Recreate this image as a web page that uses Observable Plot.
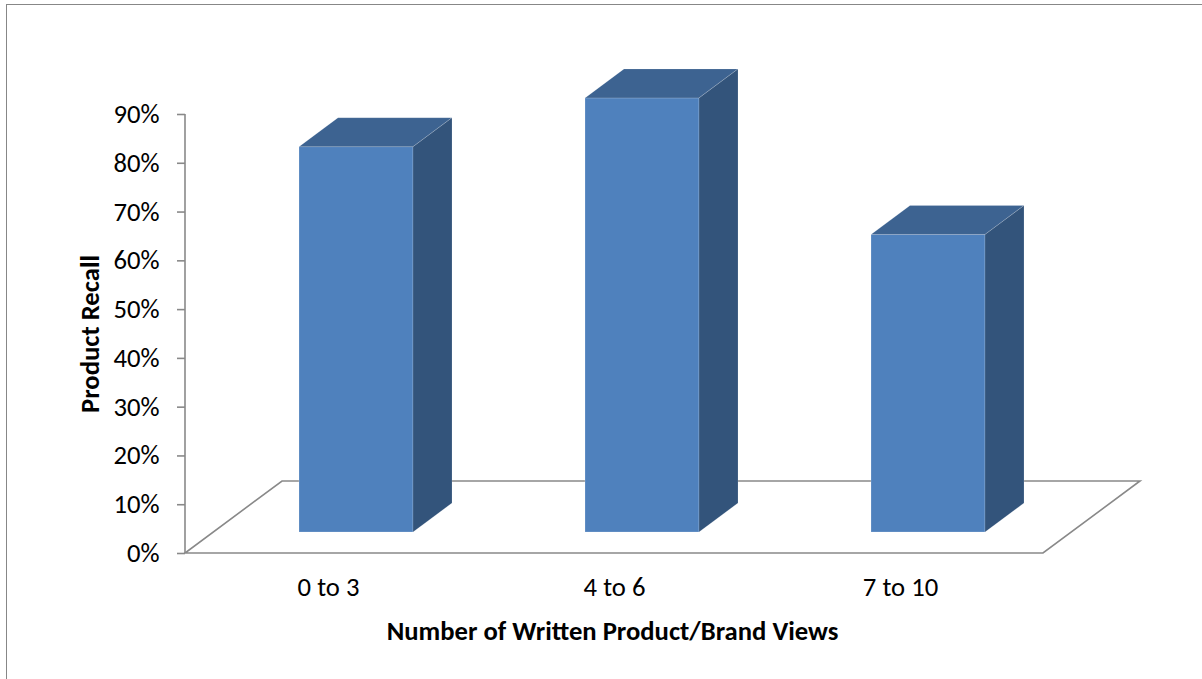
<!DOCTYPE html>
<html>
<head>
<meta charset="utf-8">
<script src="https://cdn.jsdelivr.net/npm/d3@7"></script>
<script src="https://cdn.jsdelivr.net/npm/@observablehq/plot@0.6"></script>
<style>
  html, body { margin: 0; padding: 0; background: #fff; }
  #chart { position: relative; width: 1202px; height: 679px; overflow: hidden; }
  #chart::before {
    content: ""; position: absolute; left: 6px; top: 4px; right: -10px; bottom: -10px;
    border-left: 1.5px solid #878787; border-top: 1.5px solid #878787; pointer-events: none;
  }
  #chart svg { display: block; }
</style>
</head>
<body>
<div id="chart"></div>
<script>
// Product recall by number of written product/brand views
const categories = ["0 to 3", "4 to 6", "7 to 10"];
const recall = [0.79, 0.89, 0.61];
const yTicks = [0, 0.1, 0.2, 0.3, 0.4, 0.5, 0.6, 0.7, 0.8, 0.9];
const xTitle = "Number of Written Product/Brand Views";
const yTitle = "Product Recall";

const rows = categories.map((category, i) => ({category, recall: recall[i]}));

// Oblique projection used for the pseudo-3D floor and columns (pixels)
const FLOOR = {dx: 97, dy: -72};   // depth of the floor
const FRONT = {dx: 28, dy: -21};   // front face of the columns, behind the floor's front edge
const DEPTH = {dx: 39, dy: -29};   // depth of each column
const BAR_W = 114;                 // width of a column's front face

const W = 1202, H = 679;
const margin = {top: 114, right: 159, bottom: 126, left: 185};
const band = (W - margin.left - margin.right) / categories.length;
const inset = (band - BAR_W) / 2;

const font = "Carlito, Calibri, Lato, 'Open Sans', sans-serif";
const FONT_SIZE = 26.67;
const AXIS_GRAY = "#898989";

// Floor outline and the vertical value axis line
function floor(index, scales) {
  const {x, y} = scales;
  const [x0, x1] = x.range();
  const y0 = y(0);
  const [yb, yt] = y.range();
  const g = d3.create("svg:g");
  g.append("path")
    .attr("d", `M${x0},${y0}L${x1},${y0}L${x1 + FLOOR.dx},${y0 + FLOOR.dy}L${x0 + FLOOR.dx},${y0 + FLOOR.dy}Z`)
    .attr("fill", "none")
    .attr("stroke", AXIS_GRAY)
    .attr("stroke-width", 1.6);
  g.append("line")
    .attr("x1", x0).attr("x2", x0)
    .attr("y1", yb).attr("y2", yt)
    .attr("stroke", AXIS_GRAY)
    .attr("stroke-width", 1.6);
  return g.node();
}

// Top and right-hand faces of each column
function columnFaces(index, scales) {
  const {x, y} = scales;
  const bw = x.bandwidth ? x.bandwidth() : band;
  const g = d3.create("svg:g");
  for (const d of rows) {
    const cx = x(d.category) + bw / 2 + FRONT.dx;
    const l = cx - BAR_W / 2, r = cx + BAR_W / 2;
    const b = y(0) + FRONT.dy, t = y(d.recall) + FRONT.dy;
    g.append("path")
      .attr("d", `M${l},${t}L${r},${t}L${r + DEPTH.dx},${t + DEPTH.dy}L${l + DEPTH.dx},${t + DEPTH.dy}Z`)
      .attr("fill", "#3d6391")
      .attr("stroke", "rgba(255,255,255,0.22)")
      .attr("stroke-width", 0.8);
    g.append("path")
      .attr("d", `M${r},${t}L${r + DEPTH.dx},${t + DEPTH.dy}L${r + DEPTH.dx},${b + DEPTH.dy}L${r},${b}Z`)
      .attr("fill", "#33547b")
      .attr("stroke", "rgba(255,255,255,0.18)")
      .attr("stroke-width", 0.8);
  }
  return g.node();
}

const chart = Plot.plot({
  width: W,
  height: H,
  marginTop: margin.top,
  marginRight: margin.right,
  marginBottom: margin.bottom,
  marginLeft: margin.left,
  style: {fontFamily: font, background: "transparent", color: "#000"},
  x: {domain: categories, padding: 0, label: null},
  y: {domain: [0, 0.9], label: null},
  marks: [
    floor,
    Plot.barY(rows, {
      x: "category",
      y: "recall",
      fill: "#4f81bd",
      stroke: "rgba(255,255,255,0.25)",
      strokeWidth: 0.8,
      insetLeft: inset,
      insetRight: inset,
      dx: FRONT.dx,
      dy: FRONT.dy
    }),
    columnFaces,
    Plot.axisY({
      ticks: yTicks,
      tickFormat: d3.format(".0%"),
      tickSize: 8,
      tickPadding: 18,
      fontSize: FONT_SIZE,
      stroke: AXIS_GRAY,
      strokeWidth: 1.6,
      fill: "#000",
      label: null
    }),
    Plot.axisX({
      tickSize: 0,
      tickPadding: 24,
      fontSize: FONT_SIZE,
      fill: "#000",
      label: null
    }),
    Plot.text([yTitle], {
      text: d => d,
      frameAnchor: "left",
      textAnchor: "middle",
      lineAnchor: "middle",
      dx: -95,
      rotate: -90,
      fontSize: FONT_SIZE,
      fontWeight: "bold",
      fill: "#000"
    }),
    Plot.text([xTitle], {
      text: d => d,
      frameAnchor: "bottom",
      textAnchor: "middle",
      lineAnchor: "middle",
      dx: -2,
      dy: 78,
      fontSize: FONT_SIZE,
      fontWeight: "bold",
      fill: "#000"
    })
  ]
});

document.getElementById("chart").appendChild(chart);
</script>
</body>
</html>
